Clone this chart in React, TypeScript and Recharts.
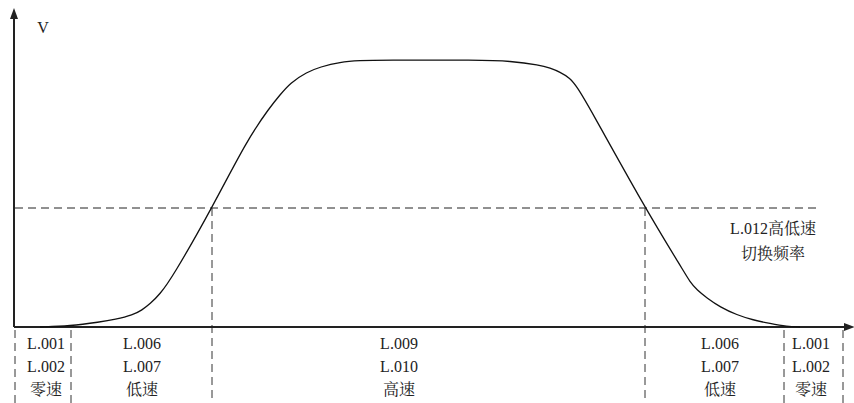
import React from 'react';
import { LineChart, Line, XAxis, YAxis, ReferenceLine, ReferenceDot } from 'recharts';

// Speed profile (time t, speed v)
const curveT = [40, 70, 100, 115, 133, 142, 150, 160, 172, 212, 247, 270, 280, 290, 307, 320, 340, 360, 380, 480, 510, 540, 550, 560, 570, 577, 587, 645, 683, 690, 697, 707, 720, 737, 753, 770, 787, 800];
const curveV = [0, 1, 5, 7.5, 12, 17, 23, 33, 49, 119, 187, 220, 232, 244, 255, 260, 265, 266.5, 267, 267, 266, 262, 259, 255, 249, 240, 224, 119, 57, 45, 37, 29, 20, 12, 7, 3.5, 0.5, 0];

const switchSpeed = 119; // L.012 high/low speed switching frequency
const switchTimes = [212, 645];
const zoneBounds = [15, 71, 784, 843];
const zoneLabelT = [46, 142, 399, 720, 811];
const zoneLine1 = ['L.001', 'L.006', 'L.009', 'L.006', 'L.001'];
const zoneLine2 = ['L.002', 'L.007', 'L.010', 'L.007', 'L.002'];
const zoneLine3 = ['零速', '低速', '高速', '低速', '零速'];
const thresholdLabel = ['L.012高低速', '切换频率'];
const axisLabel = 'V';

const data = curveT.map((t, i) => ({ t, v: curveV[i] }));

const FONT = 'Liberation Serif, Noto Serif CJK SC, serif';
const INK = '#222';

const TextShape = (lines: string[], dy: number[]) => (props: any) => (
  <g>
    {lines.map((s, i) => (
      <text
        key={i}
        x={props.cx}
        y={props.cy + dy[i]}
        textAnchor="middle"
        dominantBaseline="central"
        style={{ fontFamily: FONT, fontSize: 16 }}
        fill={INK}
      >
        {s}
      </text>
    ))}
  </g>
);

const ArrowUp = (props: any) => (
  <path d={`M${props.cx},${props.cy} L${props.cx - 4},${props.cy + 11} L${props.cx + 4},${props.cy + 11} Z`} fill={INK} />
);
const ArrowRight = (props: any) => (
  <path d={`M${props.cx},${props.cy} L${props.cx - 11},${props.cy - 4} L${props.cx - 11},${props.cy + 4} Z`} fill={INK} />
);

export default function App() {
  return (
    <div style={{ position: 'absolute', left: 0, top: 0, background: '#fff', fontFamily: FONT }}>
      <LineChart width={854} height={403} data={data} margin={{ top: 10, right: 0, left: 14, bottom: 76 }} style={{ fontFamily: FONT }}>
        <XAxis type="number" dataKey="t" domain={[14, 854]} hide />
        <YAxis type="number" domain={[0, 317]} hide />
        {/* threshold dashed line */}
        <ReferenceLine
          segment={[{ x: 15, y: switchSpeed }, { x: 818, y: switchSpeed }]}
          stroke={INK}
          strokeDasharray="8 5"
          strokeWidth={1}
          ifOverflow="visible"
        />
        {switchTimes.map((t) => (
          <ReferenceLine
            key={'s' + t}
            segment={[{ x: t, y: switchSpeed }, { x: t, y: -76 }]}
            stroke="#333"
            strokeDasharray="8 5"
            strokeWidth={1}
            ifOverflow="visible"
          />
        ))}
        {zoneBounds.map((t) => (
          <ReferenceLine
            key={'z' + t}
            segment={[{ x: t, y: -3 }, { x: t, y: -76 }]}
            stroke="#333"
            strokeDasharray="8 5"
            strokeWidth={1}
            ifOverflow="visible"
          />
        ))}
        {/* axes */}
        <ReferenceLine segment={[{ x: 14, y: 0 }, { x: 848, y: 0 }]} stroke={INK} strokeWidth={2} ifOverflow="visible" />
        <ReferenceLine segment={[{ x: 14, y: 0 }, { x: 14, y: 312 }]} stroke={INK} strokeWidth={2} ifOverflow="visible" />
        <ReferenceDot x={855} y={0} r={0} ifOverflow="visible" shape={ArrowRight} />
        <ReferenceDot x={14} y={319} r={0} ifOverflow="visible" shape={ArrowUp} />
        <Line type="basis" dataKey="v" stroke="#111" strokeWidth={1.3} dot={false} isAnimationActive={false} />
        <ReferenceDot x={43} y={300} r={0} ifOverflow="visible" shape={TextShape([axisLabel], [0])} />
        <ReferenceDot x={773} y={99} r={0} ifOverflow="visible" shape={TextShape(thresholdLabel, [0, 25])} />
        {zoneLabelT.map((t, i) => (
          <ReferenceDot
            key={'l' + i}
            x={t}
            y={-16}
            r={0}
            ifOverflow="visible"
            shape={TextShape([zoneLine1[i], zoneLine2[i], zoneLine3[i]], [0, 23, 46])}
          />
        ))}
      </LineChart>
    </div>
  );
}
